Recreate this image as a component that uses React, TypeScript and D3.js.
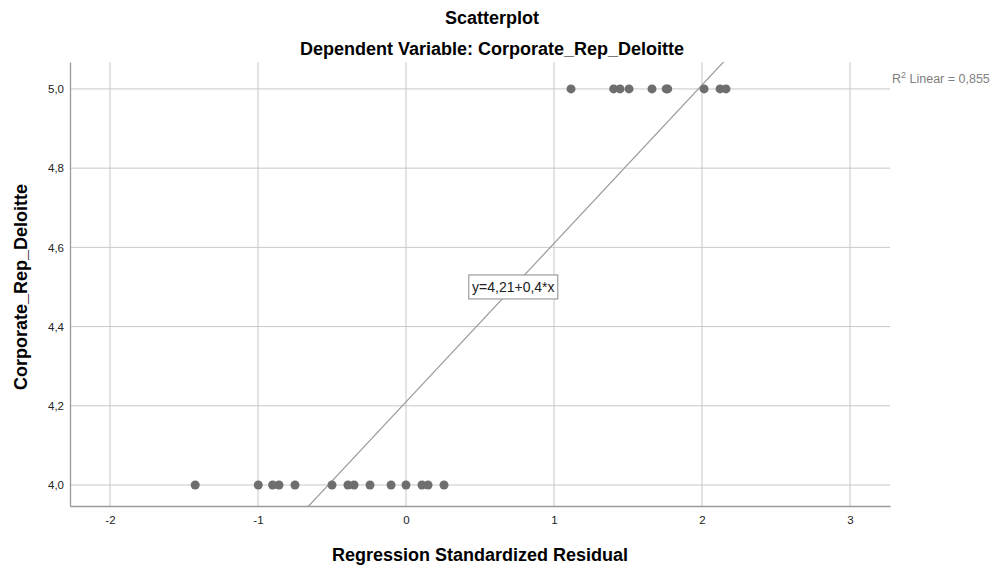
import { useEffect, useRef } from "react"
import * as d3 from "d3"

// residuals where Corporate_Rep_Deloitte = 5
const residHigh = [1.115, 1.403, 1.446, 1.507, 1.662, 1.758, 1.768, 2.014, 2.122, 2.162]
// residuals where Corporate_Rep_Deloitte = 4
const residLow = [-1.424, -0.998, -0.901, -0.858, -0.75, -0.5, -0.392, -0.351, -0.243, -0.101, 0, 0.108, 0.149, 0.257]
const xTicks = [-2, -1, 0, 1, 2, 3]
const yTicks = [4.0, 4.2, 4.4, 4.6, 4.8, 5.0]
const fitIntercept = 4.21
const fitSlope = 0.4
const rSquared = "0,855"

const comma = (s: string) => s.replace(".", ",")
const fmt = (v: number) => comma(v.toFixed(1))

export default function App() {
  const ref = useRef<SVGSVGElement>(null)

  useEffect(() => {
    const svg = d3.select(ref.current)
    svg.selectAll("*").remove()

    const width = 997, height = 568
    const margin = { top: 62, left: 70, bottom: 62, right: 107 }
    const innerW = width - margin.left - margin.right
    const innerH = height - margin.top - margin.bottom

    const xScale = d3.scaleLinear().domain([-2.27, 3.27]).range([0, innerW])
    const yScale = d3.scaleLinear().domain([3.947, 5.068]).range([innerH, 0])

    const font = "'Liberation Sans', Arial, sans-serif"
    const gridColor = "#c8c8c8"
    const axisColor = "#9a9a9a"

    svg.append("text")
      .attr("x", 492)
      .attr("y", 24)
      .attr("text-anchor", "middle")
      .style("font", `bold 18px ${font}`)
      .text("Scatterplot")

    svg.append("text")
      .attr("x", 492)
      .attr("y", 55)
      .attr("text-anchor", "middle")
      .style("font", `bold 18px ${font}`)
      .text("Dependent Variable: Corporate_Rep_Deloitte")

    const g = svg.append("g").attr("transform", `translate(${margin.left},${margin.top})`)

    // grid
    g.selectAll(".vgrid").data(xTicks).join("line")
      .attr("x1", d => xScale(d)).attr("x2", d => xScale(d))
      .attr("y1", 0).attr("y2", innerH)
      .attr("stroke", gridColor)
    g.selectAll(".hgrid").data(yTicks).join("line")
      .attr("x1", 0).attr("x2", innerW)
      .attr("y1", d => yScale(d)).attr("y2", d => yScale(d))
      .attr("stroke", gridColor)

    // axes
    const xAxis = g.append("g").attr("transform", `translate(0,${innerH})`)
      .call(d3.axisBottom(xScale).tickValues(xTicks).tickSize(0).tickPadding(10).tickFormat(d => String(d)))
    const yAxis = g.append("g")
      .call(d3.axisLeft(yScale).tickValues(yTicks).tickSize(0).tickPadding(6).tickFormat(d => fmt(d as number)))
    for (const ax of [xAxis, yAxis]) {
      ax.select(".domain").attr("stroke", axisColor).attr("stroke-width", 1.3)
      ax.selectAll(".tick text").style("font", `11.5px ${font}`).attr("fill", "#222")
    }

    // fit line, clipped to plot
    g.append("defs").append("clipPath").attr("id", "plotclip")
      .append("rect").attr("width", innerW).attr("height", innerH)
    const [x0, x1] = xScale.domain()
    g.append("line")
      .attr("clip-path", "url(#plotclip)")
      .attr("x1", xScale(x0)).attr("y1", yScale(fitIntercept + fitSlope * x0))
      .attr("x2", xScale(x1)).attr("y2", yScale(fitIntercept + fitSlope * x1))
      .attr("stroke", "#9a9a9a").attr("stroke-width", 1.2)

    // points
    const pts = [
      ...residHigh.map(x => ({ x, y: 5 })),
      ...residLow.map(x => ({ x, y: 4 })),
    ]
    g.selectAll(".pt").data(pts).join("circle")
      .attr("cx", d => xScale(d.x)).attr("cy", d => yScale(d.y))
      .attr("r", 4.5).attr("fill", "#6e6e6e")

    // equation label, centred on the fit line at y = 4.5
    const ly = 4.5
    const lx = (ly - fitIntercept) / fitSlope
    const boxW = 89, boxH = 24
    const label = g.append("g").attr("transform", `translate(${xScale(lx) - boxW / 2},${yScale(ly) - boxH / 2})`)
    label.append("rect").attr("width", boxW).attr("height", boxH)
      .attr("fill", "white").attr("stroke", "#8a8a8a")
    label.append("text").attr("x", boxW / 2).attr("y", 17).attr("text-anchor", "middle")
      .style("font", `14px ${font}`).attr("fill", "#222")
      .text(`y=${comma(String(fitIntercept))}+${comma(String(fitSlope))}*x`)

    // R² annotation
    const r2 = svg.append("text")
      .attr("x", margin.left + innerW + 2)
      .attr("y", yScale(5) + margin.top - 6)
      .style("font", `12.5px ${font}`).attr("fill", "#808080")
    r2.append("tspan").text("R")
    r2.append("tspan").attr("dy", -5).style("font-size", "9px").text("2")
    r2.append("tspan").attr("dy", 5).text(` Linear = ${rSquared}`)

    // axis titles
    svg.append("text")
      .attr("x", margin.left + innerW / 2)
      .attr("y", 561)
      .attr("text-anchor", "middle")
      .style("font", `bold 18px ${font}`)
      .text("Regression Standardized Residual")

    svg.append("text")
      .attr("transform", `translate(27,${margin.top + innerH / 2 + 3}) rotate(-90)`)
      .attr("text-anchor", "middle")
      .style("font", `bold 18px ${font}`)
      .text("Corporate_Rep_Deloitte")
  }, [])

  return <svg ref={ref} width={997} height={568} style={{ position: "absolute", left: 0, top: 0, background: "white" }} />
}
